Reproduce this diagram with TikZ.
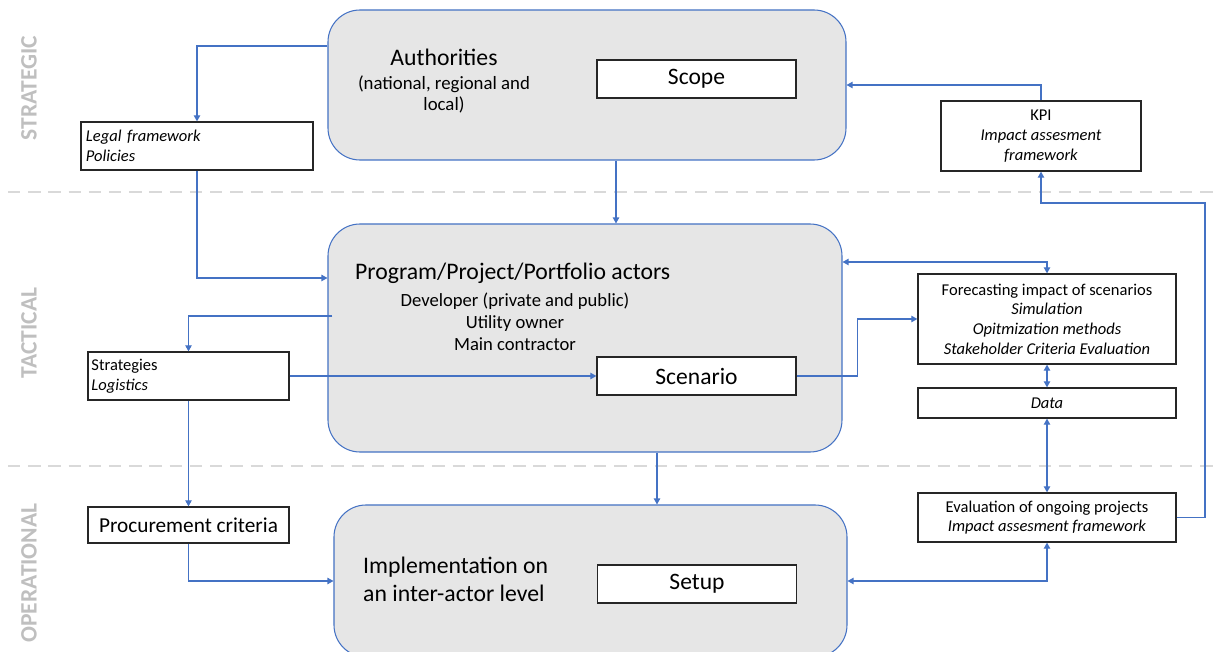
\documentclass[tikz,border=0pt]{standalone}
\usepackage{fontspec}
\setmainfont{Carlito}
\usetikzlibrary{arrows.meta}
\definecolor{linkblue}{HTML}{4472C4}
\definecolor{boxgray}{HTML}{E6E6E6}
\definecolor{tiergray}{HTML}{BFBFBF}
\definecolor{sepgray}{HTML}{D9D9D9}

\begin{document}
\begin{tikzpicture}[x=0.2mm, y=-0.2mm,
    actor/.style={draw=linkblue, line width=0.6pt, fill=boxgray, rounded corners=6.4mm, inner sep=0pt},
    subbox/.style={draw=black!85, line width=0.7pt, fill=white, minimum width=39.8mm, minimum height=7.6mm, font=\fontsize{13.4}{16}\selectfont},
    smallbox/.style={draw=black!85, line width=0.7pt, fill=white, inner sep=0pt, font=\fontsize{9.4}{11.2}\selectfont},
    link/.style={linkblue, line width=0.6pt, -{Triangle[length=3.4pt,width=3.6pt]}},
    twoway/.style={link, {Triangle[length=3.4pt,width=3.6pt]}-{Triangle[length=3.4pt,width=3.6pt]}},
    tier/.style={rotate=90, text=tiergray, font=\fontsize{13.4}{16}\selectfont\bfseries},
    separator/.style={sepgray, line width=1.7pt, dash pattern=on 7pt off 4.5pt}
]
    \useasboundingbox (0,0) rectangle (1219,652);
    \clip (0,0) rectangle (1219,652);

    % Dashed level separators
    \draw[separator] (8,192) -- (1219,192);
    \draw[separator] (8,466) -- (1219,466);

    % Level labels
    \node[tier] (strategic) at (29,88) {STRATEGIC};
    \node[tier] (tactical) at (29,333) {TACTICAL};
    \node[tier] (operational) at (29,573) {OPERATIONAL};

    % Actor boxes
    \node[actor, minimum width=103.6mm, minimum height=30mm] (auth) at (587,85) {};
    \node[actor, minimum width=102.8mm, minimum height=45.6mm] (prog) at (585,338) {};
    \node[actor, minimum width=102.6mm, minimum height=30.4mm] (impl) at (590.5,581) {};

    % Texts in actor boxes
    \node[font=\fontsize{13.5}{16}\selectfont] (authtitle) at (444,57) {Authorities};
    \node[align=center, font=\fontsize{10.7}{12}\selectfont] (authsub) at (444,94) {(national, regional and\\local)};
    \node[anchor=west, font=\fontsize{13.5}{16}\selectfont] (progtitle) at (349,273) {Program/Project/Portfolio actors};
    \node[align=center, font=\fontsize{10.6}{12.5}\selectfont] (progsub) at (515,322) {Developer (private and public)\\Utility owner\\Main contractor};
    \node[anchor=west, align=left, font=\fontsize{13.5}{16}\selectfont] (impltitle) at (357,579) {Implementation on\\an inter-actor level};

    % Inner boxes
    \node[subbox] (scope) at (696.5,79) {Scope};
    \node[subbox] (scen) at (696.5,376) {Scenario};
    \node[subbox] (setup) at (697,584) {Setup};

    % Side boxes
    \node[smallbox, minimum width=46.4mm, minimum height=9.6mm, text width=44.4mm, align=left] (legal) at (197,146) {\textit{Legal framework}\\\textit{Policies}};
    \node[smallbox, minimum width=40mm, minimum height=14mm, align=center] (kpi) at (1041,136) {KPI\\\textit{Impact assesment}\\\textit{framework}};
    \node[smallbox, minimum width=40.2mm, minimum height=9.6mm, text width=38.8mm, align=left] (strat) at (188.5,376) {Strategies\\\textit{Logistics}};
    \node[smallbox, minimum width=51.6mm, minimum height=18mm, align=center] (fore) at (1047,319) {Forecasting impact of scenarios\\\textit{Simulation}\\\textit{Opitmization methods}\\\textit{Stakeholder Criteria Evaluation}};
    \node[smallbox, minimum width=51.6mm, minimum height=6mm] (data) at (1047,403) {\textit{Data}};
    \node[smallbox, minimum width=51.6mm, minimum height=9.8mm, align=center] (eval) at (1047,517.5) {Evaluation of ongoing projects\\\textit{Impact assesment framework}};
    \node[smallbox, minimum width=40.2mm, minimum height=7.2mm, font=\fontsize{12.1}{14}\selectfont] (proc) at (188.5,525) {Procurement criteria};

    % Connectors
    \draw[link] ([yshift=7.8mm]auth.west) -| (legal.north);
    \draw[link] (legal.south) |- ([yshift=12mm]prog.west);
    \coordinate (authout) at ([xshift=5.8mm]auth.south);
    \draw[link] (authout) -- (authout |- prog.north);
    \draw[link] (kpi.north) |- (auth.east);
    \coordinate (evalturn) at (1205,203);
    \draw[link] (eval.east) -| (evalturn) -| (kpi.south);
    \draw[twoway] ([yshift=15.2mm]prog.east) -| (fore.north);
    \draw[link] (scen.east) -- ++(61,0) |- (fore.west);
    \draw[twoway] (fore.south) -- (data.north);
    \draw[twoway] (data.south) -- (eval.north);
    \draw[twoway] (eval.south) |- (impl.east);
    \draw[link] ([shift={(1mm,4.4mm)}]prog.west) -| (strat.north);
    \draw[link] (strat.east) -- (scen.west);
    \draw[link] (strat.south) -- (proc.north);
    \draw[link] (proc.south) |- (impl.west);
    \coordinate (progout) at ([xshift=14.4mm]prog.south);
    \draw[link] (progout) -- (progout |- impl.north);
\end{tikzpicture}
\end{document}
